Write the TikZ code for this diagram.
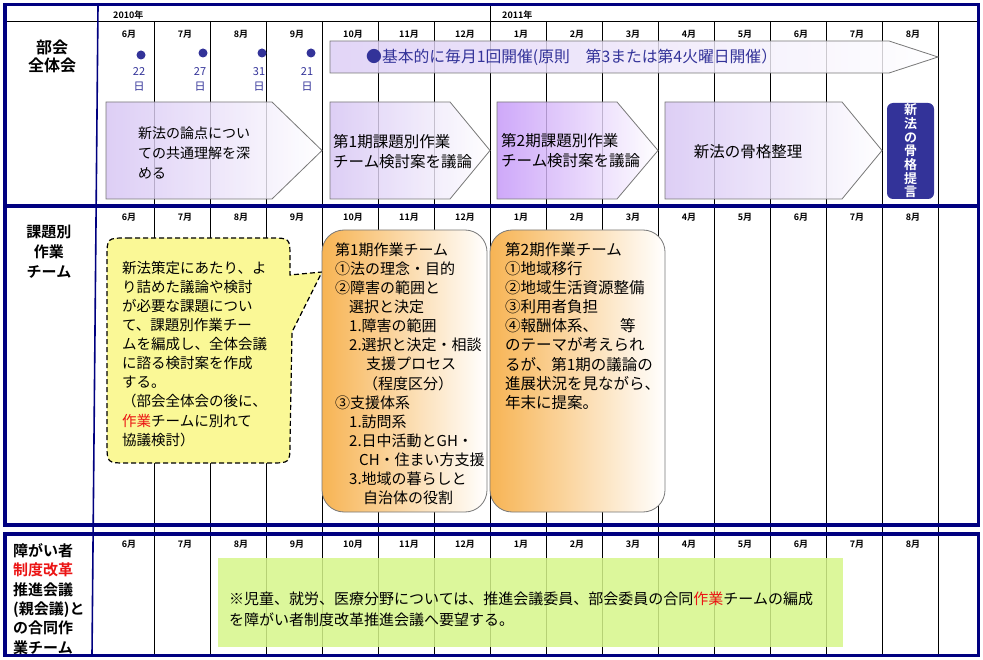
\documentclass[tikz,border=0pt]{standalone}
\usepackage{fontspec}
\setmainfont{Noto Sans CJK JP}[BoldFont={Noto Sans CJK JP Bold}]
\definecolor{navyb}{RGB}{0,0,128}
\definecolor{dotc}{RGB}{51,51,153}
\definecolor{lav}{RGB}{214,196,244}
\definecolor{lavb}{RGB}{196,150,248}
\definecolor{yel}{RGB}{250,248,150}
\definecolor{org}{RGB}{247,180,84}
\definecolor{grn}{RGB}{214,246,138}
\definecolor{redt}{RGB}{235,20,20}
\definecolor{pgray}{RGB}{120,120,120}
\begin{document}
\begin{tikzpicture}[x=1pt,y=-1pt,
  gridline/.style={black, line width=0.8pt},
  frame/.style={draw=navyb, line width=3.6pt},
  monthlbl/.style={font=\bfseries\fontsize{9}{9}\selectfont, inner sep=0},
  yearlbl/.style={font=\bfseries\fontsize{9}{10}\selectfont, inner sep=0, anchor=west},
  pent/.style={draw=pgray, line width=0.8pt, right color=white, fill opacity=0.82},
  txt/.style={inner sep=0, align=left, anchor=north west},
  datelbl/.style={text=dotc, font=\fontsize{11}{15}\selectfont, align=center, inner sep=0},
  dot/.style={circle, fill=dotc, minimum size=9pt, inner sep=0},
  obox/.style={draw=pgray, line width=0.8pt, rounded corners=22pt, left color=org, right color=white, inner sep=0}
]
\useasboundingbox (0,0) rectangle (983,660);
\fill[white] (0,0) rectangle (983,660);

% grid
\foreach \x in {154,210,...,938} \draw[gridline] (\x,21) -- (\x,655);
\draw[gridline] (490,6) -- (490,21);
\draw[gridline] (6,21) -- (977,21);
\draw[navyb, line width=1.6pt] (98,6) -- (92,655);

% year and month labels
\node[yearlbl] (y2010) at (113,15) {2010年};
\node[yearlbl] (y2011) at (502,15) {2011年};
\foreach \m [count=\i from 0] in {6,7,8,9,10,11,12,1,2,3,4,5,6,7,8} {
  \node[monthlbl] (ma\i) at (129+56*\i,34) {\m{}月};
  \node[monthlbl] (mb\i) at (129+56*\i,217) {\m{}月};
  \node[monthlbl] (mc\i) at (129+56*\i,544) {\m{}月};
}

% section labels
\node[font=\bfseries\fontsize{16}{18}\selectfont, align=center, inner sep=0] (lab1) at (52,56) {部会\\全体会};
\node[font=\bfseries\fontsize{15}{20}\selectfont, align=center, inner sep=0] (lab2) at (49,252) {課題別\\作業\\チーム};
\node[txt, font=\bfseries\fontsize{15}{19.3}\selectfont] (lab3) at (13,543.5) {障がい者\\\textcolor{redt}{制度改革}\\推進会議\\(親会議)と\\の合同作\\業チーム};

% section 1: meetings
\node[dot] (d1) at (141,55) {};
\node[dot] (d2) at (203,53) {};
\node[dot] (d3) at (262,53) {};
\node[dot] (d4) at (311,53) {};
\node[datelbl] (t1) at (139,79.5) {22\\日};
\node[datelbl] (t2) at (200,79.5) {27\\日};
\node[datelbl] (t3) at (259,79.5) {31\\日};
\node[datelbl] (t4) at (307,79.5) {21\\日};

\draw[pent, left color=lav!85] (330,41) -- (889,41) -- (938,57) -- (889,73) -- (330,73) -- cycle;
\node[anchor=west, inner sep=0, text=dotc, font=\fontsize{15.8}{18}\selectfont] (monthly) at (366,57.5) {●基本的に毎月1回開催(原則　第3または第4火曜日開催）};

\draw[pent, left color=lav] (106,102) -- (272,102) -- (322,150.5) -- (272,199) -- (106,199) -- cycle;
\draw[pent, left color=lav] (330,102) -- (450,102) -- (490,150.5) -- (450,199) -- (330,199) -- cycle;
\draw[pent, left color=lavb] (497,102) -- (617,102) -- (658,150.5) -- (617,199) -- (497,199) -- cycle;
\draw[pent, left color=lav] (665,102) -- (842,102) -- (882,150.5) -- (842,199) -- (665,199) -- cycle;

\node[txt, font=\fontsize{14}{20}\selectfont] (p1) at (138,127) {新法の論点につい\\ての共通理解を深\\める};
\node[txt, font=\fontsize{15.5}{20}\selectfont] (p2) at (333,134.2) {第1期課題別作業\\チーム検討案を議論};
\node[txt, font=\fontsize{15.5}{20}\selectfont] (p3) at (501,133.2) {第2期課題別作業\\チーム検討案を議論};
\node[font=\fontsize{15.5}{18}\selectfont, inner sep=0] (p4) at (748,152) {新法の骨格整理};

\node[fill=dotc, rounded corners=6pt, minimum width=47pt, minimum height=96pt, inner sep=0,
      text=white, font=\bfseries\fontsize{13}{13.7}\selectfont, align=center] (teigen) at (910.5,151) {新\\法\\の\\骨\\格\\提\\言};

% section 2
\draw[fill=yel, line width=1.2pt, dash pattern=on 5pt off 3pt]
  (127,238) -- (270,238) .. controls (290,238) .. (290,258) -- (290,275) -- (322,272) -- (292,332)
  -- (290,443) .. controls (290,463) .. (270,463) -- (127,463) .. controls (107,463) .. (107,443)
  -- (107,258) .. controls (107,238) .. (127,238) -- cycle;
\node[txt, font=\fontsize{14.5}{19.1}\selectfont] (callt) at (122,260.8) {新法策定にあたり、よ\\り詰めた議論や検討\\が必要な課題につい\\て、課題別作業チー\\ムを編成し、全体会議\\に諮る検討案を作成\\する。\\（部会全体会の後に、\\\textcolor{redt}{作業}チームに別れて\\協議検討）};

\node[obox, minimum width=165pt, minimum height=282pt] (team1) at (404.5,371) {};
\node[obox, minimum width=175pt, minimum height=282pt] (team2) at (577.5,371) {};
\node[txt, font=\fontsize{15}{19.1}\selectfont] (team1t) at (335,242.5) {第1期作業チーム\\①法の理念・目的\\②障害の範囲と\\\hspace*{14pt}選択と決定\\\hspace*{14pt}1.障害の範囲\\\hspace*{14pt}2.選択と決定・相談\\\hspace*{31pt}支援プロセス\\\hspace*{28pt}（程度区分）\\③支援体系\\\hspace*{14pt}1.訪問系\\\hspace*{14pt}2.日中活動とGH・\\\hspace*{24pt}CH・住まい方支援\\\hspace*{14pt}3.地域の暮らしと\\\hspace*{28pt}自治体の役割};
\node[txt, font=\fontsize{15.5}{19.1}\selectfont] (team2t) at (505,242.2) {第2期作業チーム\\①地域移行\\②地域生活資源整備\\③利用者負担\\④報酬体系、\hspace*{22pt}等\\のテーマが考えられ\\るが、第1期の議論の\\進展状況を見ながら、\\年末に提案。};

% section 3
\node[fill=grn, fill opacity=0.85, minimum width=625pt, minimum height=89pt, inner sep=0] (joint) at (530.5,602.5) {};
\node[txt, font=\fontsize{15}{21}\selectfont] (jointt) at (229,591.5) {※児童、就労、医療分野については、推進会議委員、部会委員の合同\textcolor{redt}{作業}チームの編成\\を障がい者制度改革推進会議へ要望する。};

% frames
\draw[frame] (5,4.5) rectangle (978.5,525);
\draw[frame] (5,206) -- (978.5,206);
\draw[frame] (5,534) rectangle (978.5,655.5);
\end{tikzpicture}
\end{document}
